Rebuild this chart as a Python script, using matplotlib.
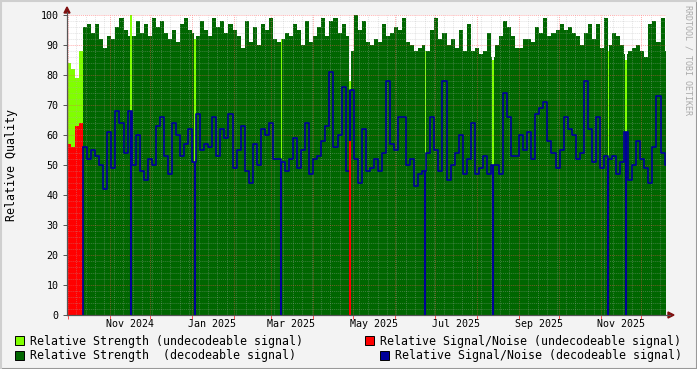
# plot.py
# RRDtool-style chart of relative signal quality over about 15 months.

import datetime as dt

import numpy as np
import matplotlib
matplotlib.use("Agg")
import matplotlib.pyplot as plt
import matplotlib.dates as mdates
from matplotlib.patches import Rectangle, Polygon
from matplotlib.lines import Line2D

plt.rcParams["font.family"] = ["DejaVu Sans Mono", "DejaVu Sans"]

# Time window shown and the spacing of the samples (one sample per 3 days).
start = dt.datetime(2024, 9, 30, 5)
end = dt.datetime(2025, 12, 19, 7)
step_days = 3

# Relative strength of decodeable signal (dark green area), one value per sample.
strength_dec = [
    0, 0, 0, 0,
    96, 97, 94, 97, 92, 89, 93, 92, 96, 99, 95, 93, 93, 98, 94, 97, 93, 99, 96, 98, 94,
    92, 95, 91, 97, 99, 95, 94, 93, 98, 95, 93, 99, 96, 98, 94, 97, 95, 93, 89, 98, 91, 96, 90, 97,
    95, 99, 92, 91, 92, 94, 93, 97, 95, 90, 98, 91, 93, 96, 99, 93, 98, 99, 94, 97, 93, 88, 100, 95, 98,
    91, 90, 92, 91, 97, 93, 94, 96, 95, 99, 91, 90, 88, 89, 90, 88, 95, 99, 92, 94, 90, 92, 89, 95, 88,
    97, 88, 89, 87, 88, 94, 86, 90, 93, 98, 96, 93, 89, 89, 92, 92, 91, 96, 94, 99, 93, 94, 95, 97, 95,
    96, 94, 93, 90, 94, 97, 92, 97, 89, 99, 90, 94, 93, 90, 87, 88, 89, 90, 88, 86, 97, 98, 91, 99, 88,
]

# Relative strength of undecodeable signal (light green area).
strength_undec = [84, 82, 79, 88] + [0] * 145

# Relative signal/noise of decodeable signal (blue line); NaN = no data.
snr_dec = [
    np.nan, np.nan, np.nan, np.nan,
    56, 52, 55, 53, 50, 42, 61, 49, 68, 64, 54, 68, 50, 60, 48, 45, 52, 50, 63, 66,
    53, 47, 64, 60, 53, 57, 62, 51, 67, 55, 57, 56, 66, 53, 62, 59, 67, 49, 55, 63, 48, 44, 57, 50, 62,
    60, 64, 52, 52, 51, 48, 52, 59, 49, 55, 64, 47, 52, 53, 58, 63, 81, 56, 60, 76, 48, 75, 52, 44, 62,
    48, 49, 52, 48, 54, 78, 57, 55, 66, 66, 50, 52, 43, 47, 48, 54, 66, 55, 48, 78, 45, 50, 54, 60, 47,
    52, 64, 47, 49, 53, 47, 50, 50, 47, 74, 66, 53, 53, 60, 55, 61, 52, 67, 69, 71, 58, 54, 49, 55, 66,
    62, 60, 52, 54, 78, 62, 51, 66, 49, 53, 52, 53, 47, 51, 61, 45, 50, 58, 52, 49, 44, 56, 73, 54, 50,
]

# Relative signal/noise of undecodeable signal (red area).
snr_undec = [57, 56, 63, 64] + [0] * 145

# Single days where only undecodeable signal was received.
event_dates = [
    dt.datetime(2024, 11, 16, 12), dt.datetime(2025, 1, 3, 12), dt.datetime(2025, 3, 8, 12),
    dt.datetime(2025, 4, 28, 12), dt.datetime(2025, 6, 23, 12), dt.datetime(2025, 8, 12, 12),
    dt.datetime(2025, 11, 6, 12), dt.datetime(2025, 11, 19, 12),
]
event_strength_undec = [100, 92, 92, 78, 88, 85, 88, 85]
event_snr_undec = [0, 0, 0, 58, 0, 0, 0, 0]

# Axis labels.
month_labels = ["Nov 2024", "Jan 2025", "Mar 2025", "May 2025", "Jul 2025", "Sep 2025", "Nov 2025"]
month_label_dates = [dt.datetime(2024, 11, 16), dt.datetime(2025, 1, 16), dt.datetime(2025, 3, 16),
                     dt.datetime(2025, 5, 16), dt.datetime(2025, 7, 16), dt.datetime(2025, 9, 16),
                     dt.datetime(2025, 11, 16)]
y_ticks = [0, 10, 20, 30, 40, 50, 60, 70, 80, 90, 100]

legend_items = [
    ("Relative Strength (undecodeable signal)", "#80FF00", 15, 336),
    ("Relative Signal/Noise (undecodeable signal)", "#FF0000", 365, 336),
    ("Relative Strength  (decodeable signal)", "#006600", 15, 351),
    ("Relative Signal/Noise (decodeable signal)", "#000099", 380, 351),
]

# Colours.
c_light = "#80FF00"
c_dark = "#006600"
c_red = "#FF0000"
c_blue = "#000099"
c_bg = "#F3F3F3"

W, H = 697, 369
fig = plt.figure(figsize=(W / 100, H / 100), dpi=100, facecolor=c_bg)
ax = fig.add_axes([67 / W, 1 - 315 / H, (666 - 67) / W, 300 / H])
ax.set_facecolor("white")

# Step areas: each sample holds until the next one.
dates = [start + dt.timedelta(days=step_days * i) for i in range(len(strength_dec))]
dates_ext = dates + [end]


def ext(values):
    return list(values) + [values[-1]]


ax.fill_between(dates_ext, 0, ext(strength_undec), step="post", color=c_light, lw=0, zorder=1)
ax.fill_between(dates_ext, 0, ext(strength_dec), step="post", color=c_dark, lw=0, zorder=1.2)
ax.fill_between(dates_ext, 0, ext(snr_undec), step="post", color=c_red, lw=0, zorder=1.4)

# One-day gaps in the decodeable signal.
ax.bar(event_dates, [100] * len(event_dates), width=1.3, color="white", lw=0, zorder=1.5)
ax.bar(event_dates, event_strength_undec, width=1.3, color=c_light, lw=0, zorder=1.6)

# Signal/noise line.
ax.step(dates_ext, ext(snr_dec), where="post", color=c_blue, lw=1.2, zorder=3)
first = next(i for i, v in enumerate(snr_dec) if not np.isnan(v))
ax.vlines(dates[first], 0, snr_dec[first], color=c_blue, lw=1.2, zorder=3)
for d in event_dates:
    k = (d - start).days // step_days
    ax.vlines(d, 0, snr_dec[k], color=c_blue, lw=1.5, zorder=3)
ax.bar(event_dates, event_snr_undec, width=1.3, color=c_red, lw=0, zorder=3.2)

# Axes limits and grid.
ax.set_xlim(start, end)
ax.set_ylim(0, 100)
ax.set_yticks(y_ticks)
ax.set_yticks(range(0, 101, 2), minor=True)
ax.xaxis.set_major_locator(mdates.MonthLocator())
ax.xaxis.set_minor_locator(mdates.WeekdayLocator(byweekday=mdates.MO))
ax.set_xticklabels([])
ax.grid(which="minor", color="#B0B0B0", alpha=0.35, lw=0.7, linestyle=(0, (1, 1)), zorder=2.5)
ax.grid(which="major", color="#FF5050", alpha=0.45, lw=0.7, linestyle=(0, (1, 1)), zorder=2.6)
ax.set_axisbelow(False)
ax.tick_params(axis="x", which="major", length=3, color="#FF5050", width=0.7)
ax.tick_params(axis="x", which="minor", length=0)
ax.tick_params(axis="y", which="major", length=3, color="#555555", width=0.7, pad=3,
               labelsize=7.2, labelcolor="black")
ax.tick_params(axis="y", which="minor", length=0)

for s in ["top", "right"]:
    ax.spines[s].set_visible(False)
for s in ["left", "bottom"]:
    ax.spines[s].set_color("#555555")
    ax.spines[s].set_linewidth(0.8)

# Month labels under the axis, centred mid-month.
for lab, d in zip(month_labels, month_label_dates):
    ax.text(d, -0.03, lab, transform=ax.get_xaxis_transform(), ha="center", va="center",
            fontsize=7.2, color="black")

# Axis extensions and arrow heads.
fig.add_artist(Line2D([67 / W, 67 / W], [1 - 315 / H, 1 - 12 / H], color="#555555", lw=0.8))
fig.add_artist(Line2D([67 / W, 670 / W], [1 - 315 / H, 1 - 315 / H], color="#555555", lw=0.8))
fig.add_artist(Polygon([[64 / W, 1 - 13 / H], [70 / W, 1 - 13 / H], [67 / W, 1 - 7 / H]],
                       closed=True, color="#7F1010", transform=fig.transFigure))
fig.add_artist(Polygon([[668 / W, 1 - 312 / H], [668 / W, 1 - 318 / H], [674 / W, 1 - 315 / H]],
                       closed=True, color="#7F1010", transform=fig.transFigure))

# Y label and watermark.
fig.text(12 / W, 1 - 165 / H, "Relative Quality", rotation=90, ha="center", va="center", fontsize=8.4)
fig.text(688 / W, 1 - 5 / H, "RRDTOOL / TOBI OETIKER", rotation=270, ha="center", va="top",
         fontsize=6, color="#AAAAAA")

# Legend.
for text, color, x, y in legend_items:
    fig.add_artist(Rectangle((x / W, 1 - (y + 9) / H), 9 / W, 9 / H, transform=fig.transFigure,
                             facecolor=color, edgecolor="black", lw=0.7))
    fig.text((x + 15) / W, 1 - (y + 5) / H, text, ha="left", va="center", fontsize=8.4)

# Frame around the image.
fig.add_artist(Line2D([0, 1], [0.5 / H, 0.5 / H], color="#999999", lw=1.5))
fig.add_artist(Line2D([1 - 0.5 / W, 1 - 0.5 / W], [0, 1], color="#999999", lw=1.5))
fig.add_artist(Line2D([0, 1], [1 - 0.5 / H, 1 - 0.5 / H], color="#CFCFCF", lw=1.5))
fig.add_artist(Line2D([0.5 / W, 0.5 / W], [0, 1], color="#CFCFCF", lw=1.5))

fig.savefig("out.png", dpi=100, facecolor=c_bg)
